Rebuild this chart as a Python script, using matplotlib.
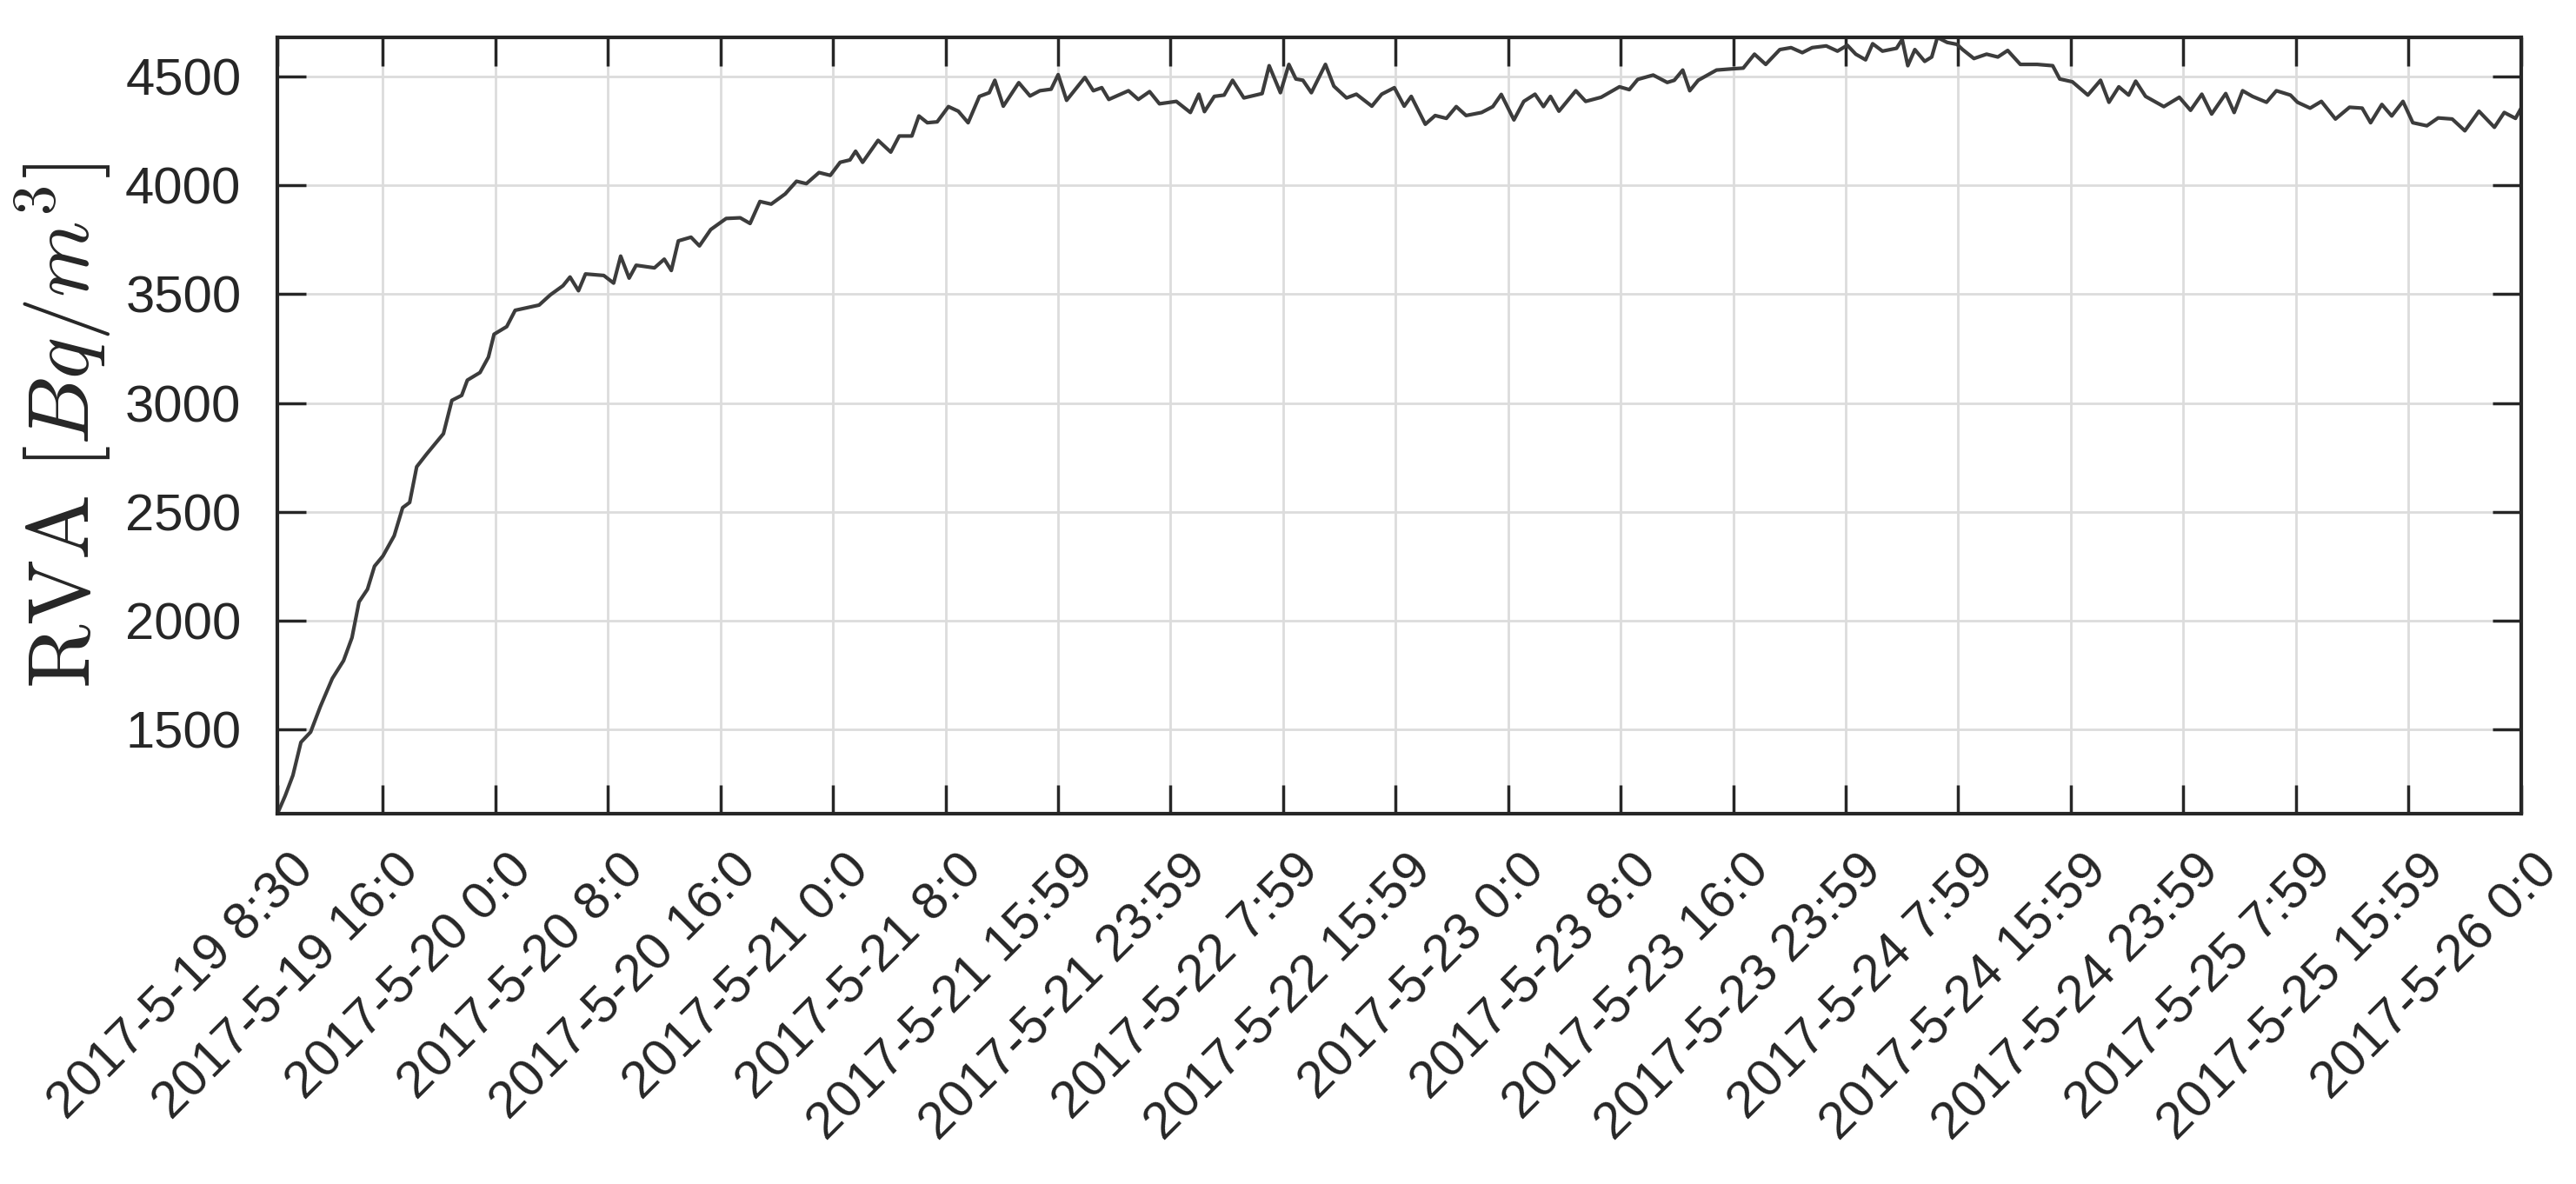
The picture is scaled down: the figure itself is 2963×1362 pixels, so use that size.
import matplotlib
matplotlib.use("Agg")
from matplotlib import pyplot as plt
from matplotlib.transforms import ScaledTranslation
from datetime import datetime

# hours since 2017-5-19 8:30 and RVA values
hours = [0, 0.55, 1.1, 1.67, 2.36, 3.05, 3.9, 4.7, 5.3, 5.8, 6.4, 6.9, 7.5, 8.3, 8.9,
         9.4, 9.9, 10.6, 11.8, 12.4, 13.1, 13.5, 14.4, 15.0, 15.4, 16.3, 16.9, 18.6,
         19.4, 20.3, 20.8, 21.4, 21.9, 23.2, 23.9, 24.4, 25.0, 25.5, 26.8, 27.5, 28.0,
         28.5, 29.4, 30.0, 30.8, 31.9, 32.9, 33.6, 34.3, 35.1, 36.1, 36.9, 37.6, 38.5,
         39.3, 40.0, 40.7, 41.1, 41.6, 42.7, 43.6, 44.2, 45.1, 45.6, 46.2, 46.9, 47.7,
         48.4, 49.1, 49.9, 50.6, 51.0, 51.6, 52.7, 53.5, 54.2, 55.0, 55.5, 56.1, 57.4,
         58.0, 58.6, 59.1, 60.5, 61.2, 62.0, 62.7, 63.9, 64.9, 65.5, 65.9, 66.6, 67.3,
         67.9, 68.7, 70.0, 70.5, 71.3, 71.9, 72.4, 72.9, 73.5, 74.5, 75.1, 76.0, 76.7,
         77.8, 78.5, 79.4, 80.1, 80.6, 81.6, 82.3, 83.1, 83.8, 84.5, 85.6, 86.4, 87.0,
         87.9, 88.6, 89.4, 90.0, 90.5, 91.1, 92.3, 93.0, 94.1, 95.4, 96.1, 96.7, 97.8,
         98.8, 99.3, 99.9, 100.4, 101.0, 102.3, 103.5, 104.2, 105.0, 105.8, 106.8,
         107.6, 108.4, 109.1, 110.1, 110.9, 111.6, 112.2, 112.9, 113.4, 114.1, 115.1,
         115.5, 115.9, 116.4, 117.1, 117.6, 118.0, 118.7, 119.4, 119.8, 120.6, 121.5,
         122.3, 123.0, 123.9, 125.1, 126.2, 126.7, 127.6, 128.7, 129.6, 130.2, 130.9,
         131.6, 132.1, 132.8, 134.1, 135.2, 136.0, 136.8, 137.5, 138.5, 139.1, 139.7,
         140.4, 141.4, 142.1, 143.1, 143.6, 144.5, 145.3, 146.3, 147.3, 148.2, 148.8,
         149.6, 150.3, 151.1, 151.8, 152.8, 153.6, 154.6, 155.5, 156.5, 157.6, 158.3,
         159.1, 159.5]
rva = [1113, 1195, 1289, 1441, 1488, 1605, 1734, 1816, 1922, 2086, 2144, 2250, 2297,
       2390, 2519, 2543, 2707, 2765, 2859, 3012, 3035, 3105, 3140, 3211, 3316, 3351,
       3426, 3450, 3497, 3539, 3579, 3516, 3593, 3586, 3551, 3675, 3574, 3633, 3621,
       3661, 3609, 3745, 3762, 3722, 3797, 3848, 3851, 3825, 3926, 3914, 3961, 4019,
       4008, 4059, 4046, 4106, 4117, 4157, 4106, 4207, 4153, 4227, 4227, 4319, 4288,
       4292, 4362, 4341, 4288, 4409, 4426, 4483, 4364, 4472, 4411, 4435, 4442, 4509,
       4391, 4496, 4435, 4449, 4395, 4435, 4395, 4431, 4375, 4386, 4335, 4419, 4339,
       4409, 4415, 4483, 4402, 4422, 4550, 4426, 4556, 4489, 4483, 4426, 4556, 4456,
       4402, 4419, 4364, 4419, 4449, 4364, 4409, 4281, 4321, 4308, 4362, 4321, 4335,
       4362, 4418, 4301, 4386, 4419, 4362, 4409, 4341, 4435, 4386, 4405, 4453, 4440,
       4487, 4507, 4473, 4483, 4530, 4435, 4483, 4530, 4536, 4539, 4603, 4556, 4624,
       4633, 4610, 4633, 4641, 4617, 4644, 4603, 4577, 4651, 4617, 4630, 4671, 4550,
       4624, 4570, 4590, 4680, 4657, 4648, 4624, 4583, 4603, 4590, 4620, 4556, 4556,
       4550, 4489, 4476, 4415, 4483, 4382, 4453, 4415, 4479, 4409, 4362, 4405, 4345,
       4419, 4328, 4422, 4335, 4435, 4409, 4382, 4435, 4415, 4382, 4355, 4386, 4305,
       4359, 4355, 4288, 4372, 4319, 4386, 4288, 4274, 4310, 4305, 4251, 4341, 4267,
       4335, 4308, 4355]

tick_labels = ["2017-5-19 8:30", "2017-5-19 16:0", "2017-5-20 0:0", "2017-5-20 8:0",
               "2017-5-20 16:0", "2017-5-21 0:0", "2017-5-21 8:0", "2017-5-21 15:59",
               "2017-5-21 23:59", "2017-5-22 7:59", "2017-5-22 15:59", "2017-5-23 0:0",
               "2017-5-23 8:0", "2017-5-23 16:0", "2017-5-23 23:59", "2017-5-24 7:59",
               "2017-5-24 15:59", "2017-5-24 23:59", "2017-5-25 7:59", "2017-5-25 15:59",
               "2017-5-26 0:0"]
y_ticks = [1500, 2000, 2500, 3000, 3500, 4000, 4500]

start = datetime.strptime(tick_labels[0], "%Y-%m-%d %H:%M")
tick_pos = [(datetime.strptime(s, "%Y-%m-%d %H:%M") - start).total_seconds() / 3600
            for s in tick_labels]

plt.rcParams['font.family'] = ['Liberation Sans', 'DejaVu Sans']
plt.rcParams['mathtext.fontset'] = 'cm'

fig = plt.figure(figsize=(29.63, 13.62), dpi=100)
ax = fig.add_axes([0.1077, 0.3128, 0.8710, 0.6556])

ax.plot(hours, rva, color='#3c3c3c', lw=3)

ax.set_xlim(tick_pos[0], tick_pos[-1])
ax.set_ylim(1113, 4680)
ax.set_xticks(tick_pos)
ax.set_xticklabels(tick_labels, rotation=45, ha='right', va='center',
                   rotation_mode='anchor')
ax.set_yticks(y_ticks)

ax.grid(True, color='#dcdcdc', lw=2)
ax.set_axisbelow(True)
ax.tick_params(direction='in', length=24, width=2.5, top=True, right=True,
               labelsize=43, colors='#262626', pad=30)
ax.tick_params(axis='x', pad=34)
for s in ax.spines.values():
    s.set_linewidth(3)
    s.set_color('#262626')

# nudge the slanted labels like the original (right and a bit down)
# (after tick_params, which resets the label transforms)
shift = ScaledTranslation(0.33, -0.09, fig.dpi_scale_trans)
for lab in ax.get_xticklabels():
    lab.set_transform(lab.get_transform() + shift)

ax.set_ylabel(r'$\mathrm{RVA}\ [Bq/m^3]$', fontsize=72, color='#262626', labelpad=10)

fig.savefig('out.png', dpi=100)
